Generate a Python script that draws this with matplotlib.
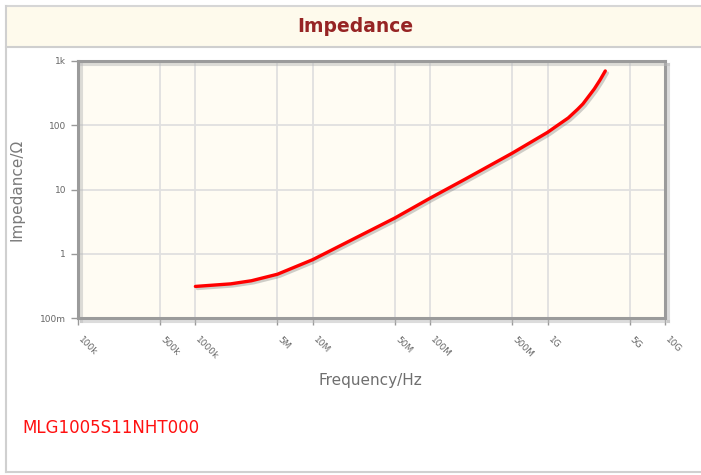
import matplotlib
matplotlib.use("Agg")
import matplotlib.pyplot as plt
import matplotlib.patheffects as pe
import matplotlib.transforms as mtransforms
from matplotlib.patches import Rectangle
from matplotlib.lines import Line2D

# ---- data ----
freq_hz = [1e6, 2e6, 3e6, 5e6, 1e7, 2e7, 5e7, 1e8, 2e8, 5e8, 1e9, 1.2e9, 1.5e9,
           1.8e9, 2e9, 2.5e9, 2.8e9, 3.1e9]
impedance_ohm = [0.31, 0.34, 0.38, 0.48, 0.81, 1.54, 3.6, 7.35, 14.6, 36.8, 77.6,
                 98, 130, 177, 215, 368, 508, 700]
x_ticks = [1e5, 5e5, 1e6, 5e6, 1e7, 5e7, 1e8, 5e8, 1e9, 5e9, 1e10]
x_tick_labels = ["100k", "500k", "1000k", "5M", "10M", "50M", "100M", "500M", "1G", "5G", "10G"]
y_ticks = [0.1, 1, 10, 100, 1000]
y_tick_labels = ["100m", "1", "10", "100", "1k"]
title = "Impedance"
part_name = "MLG1005S11NHT000"

W, H = 701, 475
fig = plt.figure(figsize=(W / 100, H / 100), dpi=100)
fig.patch.set_facecolor("white")

def fx(px):
    return px / W

def fy(py):
    return 1 - py / H

# outer frame and title band
fig.add_artist(Rectangle((fx(6), fy(47)), fx(701 - 6), (47 - 6) / H,
                         transform=fig.transFigure, facecolor="#fefaec",
                         edgecolor="none", zorder=0))
fig.add_artist(Line2D([fx(6), 1], [fy(6), fy(6)], color="#d6d6d6", lw=1.5))
fig.add_artist(Line2D([fx(6), 1], [fy(47), fy(47)], color="#cfcfcf", lw=1.5))
fig.add_artist(Line2D([fx(6), fx(6)], [fy(6), fy(472)], color="#d0d0d0", lw=1.5))
fig.add_artist(Line2D([fx(6), 1], [fy(472), fy(472)], color="#d0d0d0", lw=1.5))

fig.text(fx(355), fy(27), title, ha="center", va="center", fontsize=13.5,
         fontweight="bold", color="#962424", family="DejaVu Sans")

ax = fig.add_axes([fx(78), fy(318), fx(665 - 78), (318 - 61) / H])
ax.set_facecolor("#fffcf3")
ax.set_xscale("log")
ax.set_yscale("log")
ax.set_xlim(1e5, 1e10)
ax.set_ylim(0.1, 1000)

ax.set_xticks(x_ticks)
ax.set_xticklabels(x_tick_labels)
ax.set_yticks(y_ticks)
ax.set_yticklabels(y_tick_labels)
ax.minorticks_off()
ax.tick_params(axis="both", which="major", length=5, width=1, color="#999999",
               labelcolor="#666666", labelsize=6.5, direction="out")
ax.tick_params(axis="x", pad=7)
shift = mtransforms.ScaledTranslation(5 / 100, 0, fig.dpi_scale_trans)
for lab in ax.get_xticklabels():
    lab.set_rotation(-45)
    lab.set_ha("left")
    lab.set_va("top")
    lab.set_rotation_mode("anchor")
    lab.set_transform(lab.get_transform() + shift)

ax.grid(True, color="#e0e0e0", lw=1.3)
ax.set_axisbelow(True)
for s in ax.spines.values():
    s.set_color("#9b9b9b")
    s.set_linewidth(2.2)
    s.set_path_effects([pe.SimpleLineShadow(offset=(2, -2), shadow_color="#bbbbbb", alpha=0.5),
                        pe.Normal()])

ax.plot(freq_hz, impedance_ohm, color="#ff0000", lw=2.4, solid_capstyle="round",
        solid_joinstyle="round",
        path_effects=[pe.SimpleLineShadow(offset=(1.5, -1.5), shadow_color="#777777", alpha=0.35),
                      pe.Normal()], zorder=5)

fig.text(fx(17), fy(190), "Impedance/Ω", rotation=90, ha="center", va="center",
         fontsize=11, color="#7a7a7a")
fig.text(fx(370), fy(380), "Frequency/Hz", ha="center", va="center",
         fontsize=11, color="#6f6f6f")
fig.text(fx(22), fy(428), part_name, ha="left", va="center", fontsize=12, color="#ff1010")

fig.savefig("out.png", dpi=100, facecolor="white")
